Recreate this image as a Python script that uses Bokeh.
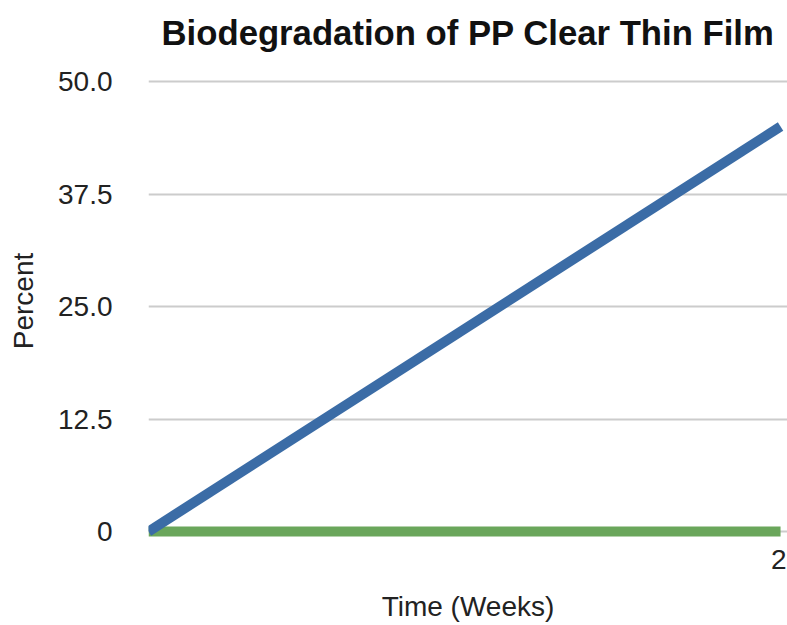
from bokeh.plotting import figure
from bokeh.models import FixedTicker, Range1d
from bokeh.embed import file_html
from bokeh.resources import INLINE

# Data
weeks = [0, 2]
sample_pct = [0, 45.0]
control_pct = [0, 0]
y_ticks = [0, 12.5, 25, 37.5, 50]
y_tick_labels = ["0", "12.5", "25.0", "37.5", "50.0"]
x_ticks = [2]

FONT = "Liberation Sans"

p = figure(width=787, height=625, output_backend="svg", toolbar_location=None,
           x_range=Range1d(0, 2.022), y_range=Range1d(-0.776, 52.0),
           title="Biodegradation of PP Clear Thin Film",
           min_border_left=148, min_border_right=0, min_border_top=62,
           min_border_bottom=87)
p.outline_line_color = None
p.background_fill_color = "white"
p.border_fill_color = "white"

p.title.align = "center"
p.title.text_font = FONT
p.title.text_font_size = "34.7px"
p.title.text_font_style = "bold"
p.title.text_color = "#111111"
p.title.standoff = 23

# lines
p.line(weeks, control_pct, line_color="#6aa65b", line_width=10)
p.line(weeks, sample_pct, line_color="#3b6ca6", line_width=10)

# axes
for ax in (p.xaxis[0], p.yaxis[0]):
    ax.axis_line_color = None
    ax.major_tick_line_color = None
    ax.minor_tick_line_color = None
    ax.major_tick_out = 0
    ax.major_tick_in = 0
    ax.major_label_text_font = FONT
    ax.major_label_text_font_size = "28px"
    ax.major_label_text_color = "#222222"
    ax.axis_label_text_font = FONT
    ax.axis_label_text_font_size = "28px"
    ax.axis_label_text_font_style = "normal"
    ax.axis_label_text_color = "#222222"

p.yaxis.ticker = FixedTicker(ticks=y_ticks)
p.yaxis.major_label_overrides = {t: l for t, l in zip(y_ticks, y_tick_labels)}
p.yaxis.major_label_standoff = 36
p.yaxis.axis_label = "Percent"
p.yaxis.axis_label_standoff = 16

p.xaxis.ticker = FixedTicker(ticks=x_ticks)
p.xaxis.major_label_standoff = 11
p.xaxis.axis_label = "Time (Weeks)"
p.xaxis.axis_label_standoff = 19

p.xgrid.grid_line_color = None
p.ygrid.grid_line_color = "#cccccc"
p.ygrid.grid_line_width = 2
p.ygrid.ticker = FixedTicker(ticks=y_ticks)

open("out.html", "w").write(file_html(p, INLINE))
